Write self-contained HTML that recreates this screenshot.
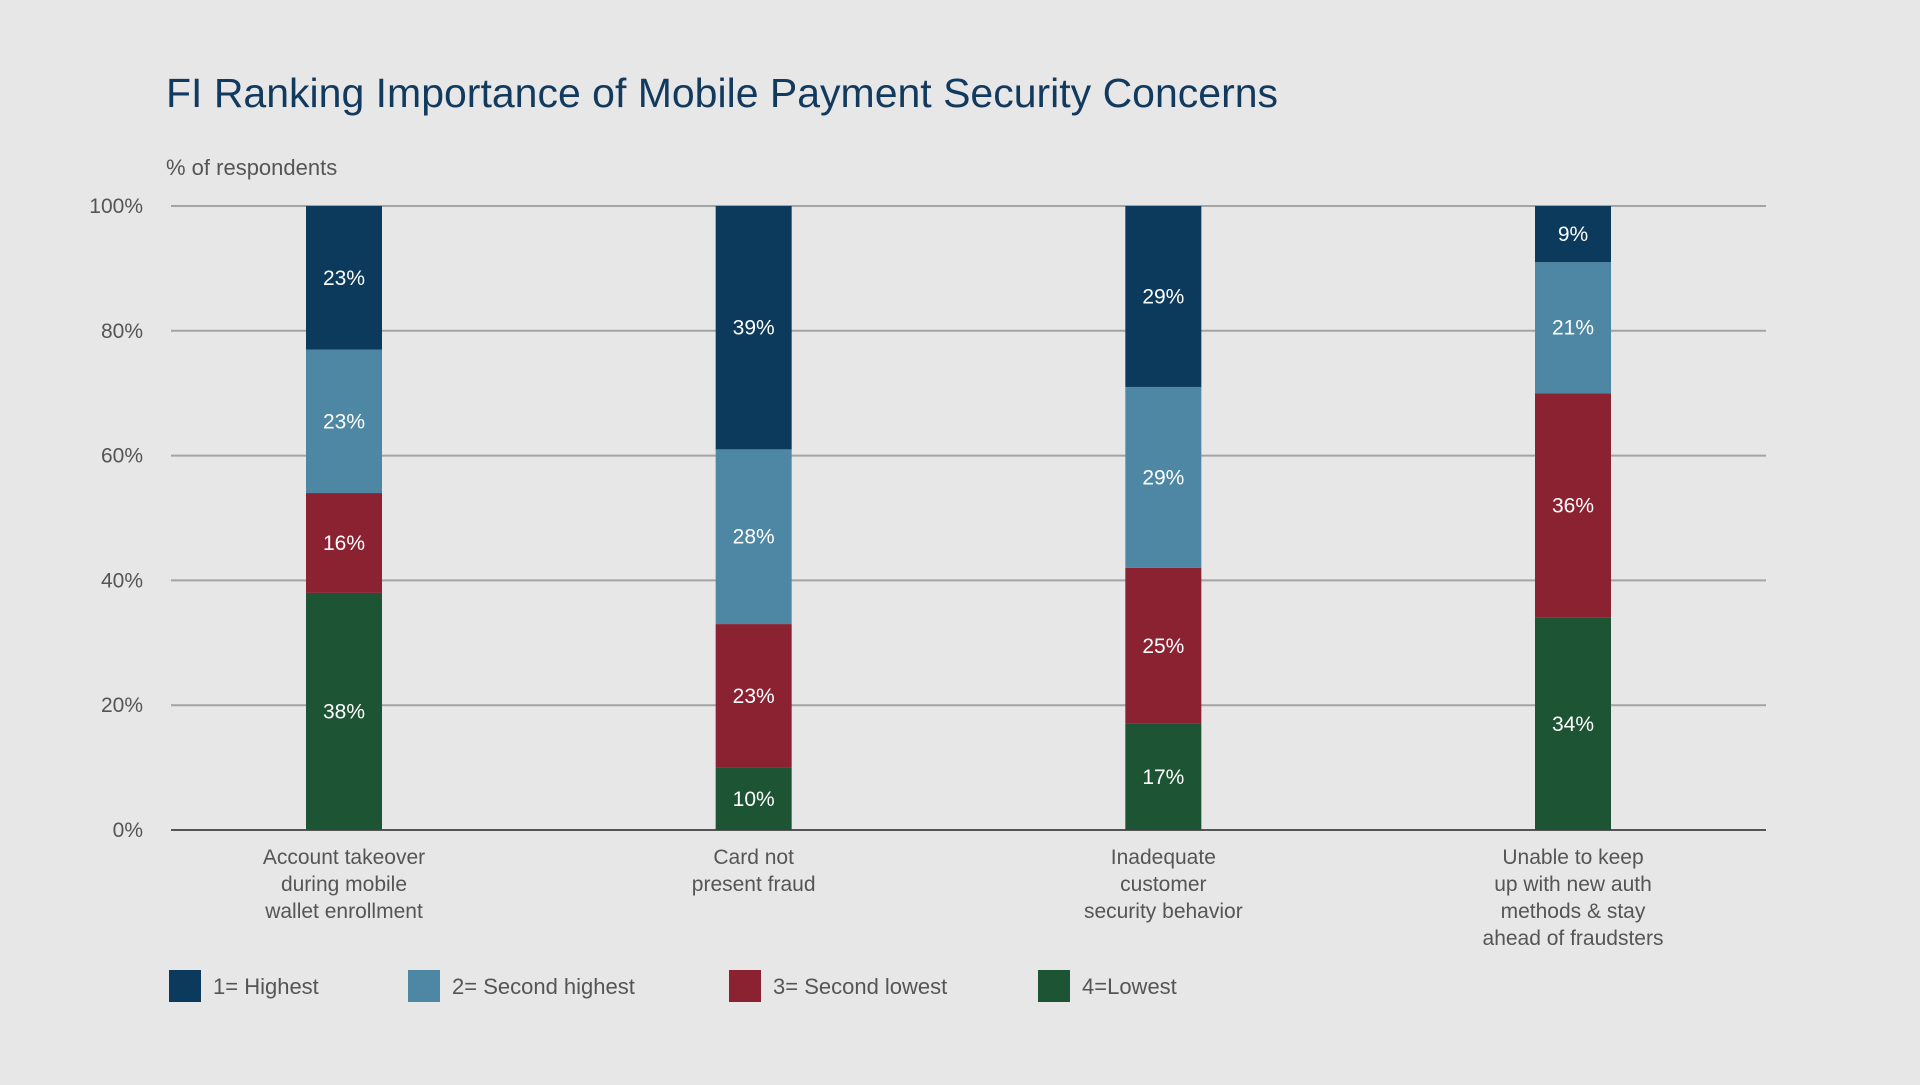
<!DOCTYPE html>
<html><head><meta charset="utf-8"><style>
html,body{margin:0;padding:0;background:#e7e7e7;}
body{width:1920px;height:1080px;overflow:hidden;font-family:"Liberation Sans",sans-serif;}
</style></head><body>
<svg id="chart" width="1920" height="1080" xmlns="http://www.w3.org/2000/svg">
<rect width="1920" height="1080" fill="#e7e7e7"/>
<text x="166" y="107" font-size="41" fill="#123a5e">FI Ranking Importance of Mobile Payment Security Concerns</text>
<text x="166" y="175" font-size="22" fill="#555">% of respondents</text>
<g id="grid"></g><g id="bars"></g><g id="labels"></g><g id="legend"></g>
</svg>
<script>
const categories=[["Account takeover","during mobile","wallet enrollment"],["Card not","present fraud"],["Inadequate","customer","security behavior"],["Unable to keep","up with new auth","methods & stay","ahead of fraudsters"]];
const seriesNames=["1= Highest","2= Second highest","3= Second lowest","4=Lowest"];
const lowest=[38,10,17,34];
const secondLowest=[16,23,25,36];
const secondHighest=[23,28,29,21];
const highest=[23,39,29,9];
const yTicks=[0,20,40,60,80,100];
const colors=["#0b3a5c","#4d87a3","#8a2232","#1d5433"];
const NS="http://www.w3.org/2000/svg";
const X0=171,X1=1766,Y0=830,Y1=206;
const y=v=>Y0-(v/100)*(Y0-Y1);
const xc=i=>344+i*(1573-344)/(categories.length-1);
const BW=76;
function mk(t,a,p){const e=document.createElementNS(NS,t);for(const k in a)e.setAttribute(k,a[k]);p.appendChild(e);return e;}
const grid=document.getElementById('grid'),bars=document.getElementById('bars'),labels=document.getElementById('labels'),legend=document.getElementById('legend');
yTicks.forEach(t=>{
 const l=mk('line',{x1:X0,x2:X1,y1:y(t),y2:y(t),stroke:t===0?'#555':'#a4a4a4','stroke-width':2},grid);
 
 
 const tx=mk('text',{x:143,y:y(t)+7,'font-size':21,fill:'#555','text-anchor':'end'},grid);
 tx.textContent=t+'%';
 
 
});
const stack=[lowest,secondLowest,secondHighest,highest];
const colIdx=[3,2,1,0];
categories.forEach((c,i)=>{
 let base=0;
 stack.forEach((s,k)=>{
  const v=s[i];
  const r=mk('rect',{x:xc(i)-BW/2,y:y(base+v),width:BW,height:y(base)-y(base+v),fill:colors[colIdx[k]]},bars);
  
  
  const t=mk('text',{x:xc(i),y:(y(base)+y(base+v))/2+7,'font-size':21,fill:'#fff','text-anchor':'middle'},bars);
  t.textContent=v+'%';
  
  
  base+=v;
 });
 c.forEach((line,j)=>{
  const t=mk('text',{x:xc(i),y:864+j*27,'font-size':21,fill:'#555','text-anchor':'middle'},labels);
  t.textContent=line;
  
  
 });
});
const lx=[169,408,729,1038];
seriesNames.forEach((n,k)=>{
 const r=mk('rect',{x:lx[k],y:970,width:32,height:32,fill:colors[k]},legend);
 
 
 const t=mk('text',{x:lx[k]+44,y:994,'font-size':22,fill:'#555'},legend);
 t.textContent=n;
 
 
});
</script>
</body></html>
